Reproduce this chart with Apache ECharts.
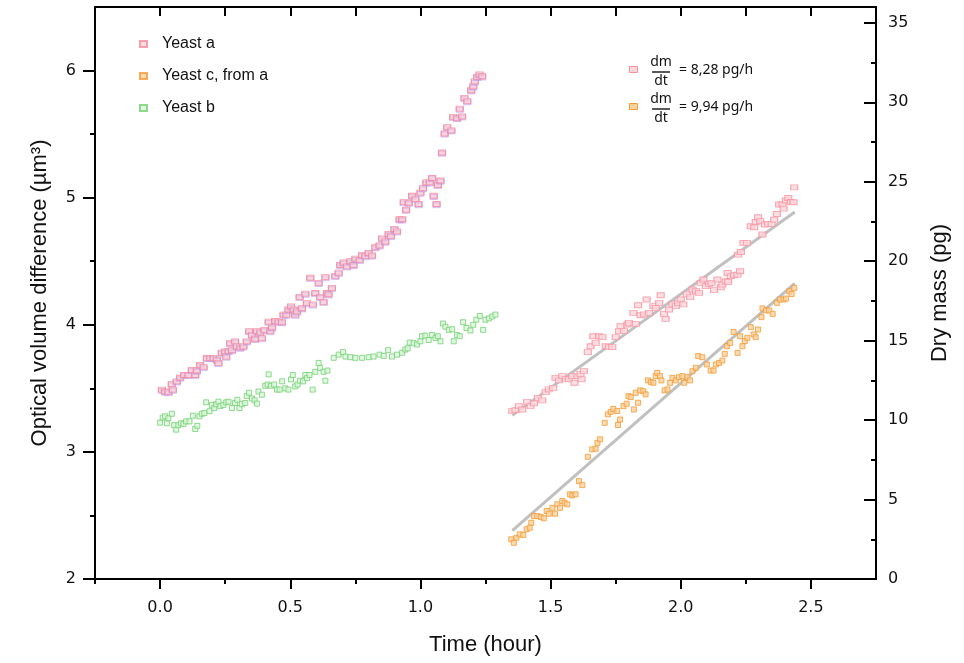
<!DOCTYPE html>
<html>
<head>
<meta charset="utf-8">
<script src="https://cdn.jsdelivr.net/npm/echarts@6/dist/echarts.min.js"></script>
<style>html,body{margin:0;padding:0;background:#fff}#c{width:964px;height:663px}</style>
</head>
<body>
<div id="c"></div>
<script>
// ---- data: [time (hour), value] ----
const yeastA = [ // optical volume difference (µm³), left axis
[0.007,3.49],[0.019,3.475],[0.032,3.47],[0.045,3.535],[0.049,3.49],[0.064,3.555],[0.077,3.585],[0.093,3.605],[0.109,3.605],[0.122,3.645],
[0.135,3.605],[0.141,3.64],[0.154,3.685],[0.167,3.667],[0.180,3.74],[0.192,3.74],[0.205,3.74],[0.218,3.725],[0.224,3.70],[0.237,3.78],
[0.250,3.79],[0.254,3.75],[0.263,3.795],[0.269,3.855],[0.276,3.80],[0.288,3.87],[0.295,3.83],[0.308,3.82],[0.320,3.83],[0.333,3.87],
[0.342,3.95],[0.353,3.92],[0.365,3.89],[0.372,3.95],[0.385,3.94],[0.391,3.895],[0.401,3.96],[0.417,4.025],[0.423,3.95],[0.430,3.98],
[0.442,4.03],[0.455,4.025],[0.468,4.02],[0.474,4.08],[0.485,4.08],[0.493,4.12],[0.503,4.145],[0.513,4.12],[0.519,4.08],[0.526,4.105],
[0.536,4.22],[0.545,4.13],[0.558,4.245],[0.564,4.17],[0.577,4.37],[0.587,4.16],[0.596,4.25],[0.609,4.33],[0.615,4.22],[0.628,4.18],
[0.635,4.375],[0.641,4.25],[0.647,4.24],[0.660,4.29],[0.673,4.385],[0.686,4.41],[0.692,4.47],[0.705,4.49],[0.718,4.46],[0.731,4.50],
[0.743,4.47],[0.750,4.52],[0.767,4.51],[0.776,4.55],[0.788,4.54],[0.801,4.565],[0.814,4.545],[0.827,4.61],[0.843,4.625],[0.853,4.68],
[0.865,4.655],[0.878,4.715],[0.887,4.70],[0.900,4.755],[0.910,4.735],[0.920,4.83],[0.930,4.83],[0.936,4.965],[0.945,4.905],[0.955,4.96],
[0.968,5.015],[0.981,4.99],[0.993,4.95],[1.000,5.04],[1.010,5.075],[1.023,5.12],[1.036,5.12],[1.045,5.155],[1.051,5.015],[1.062,4.95],
[1.067,5.10],[1.077,5.135],[1.083,5.355],[1.093,5.505],[1.103,5.555],[1.119,5.53],[1.126,5.635],[1.141,5.625],[1.151,5.70],[1.160,5.64],
[1.169,5.785],[1.180,5.76],[1.195,5.845],[1.203,5.875],[1.209,5.915],[1.218,5.95],[1.227,5.97],[1.237,5.955]
];
const yeastB = [ // optical volume difference (µm³), left axis
[0.000,3.23],[0.010,3.27],[0.019,3.28],[0.026,3.225],[0.032,3.265],[0.045,3.30],[0.054,3.21],[0.062,3.175],[0.070,3.21],[0.080,3.225],
[0.090,3.22],[0.100,3.24],[0.113,3.24],[0.126,3.285],[0.135,3.18],[0.143,3.205],[0.151,3.28],[0.160,3.30],[0.170,3.305],[0.177,3.39],
[0.190,3.32],[0.199,3.37],[0.208,3.345],[0.215,3.375],[0.224,3.395],[0.231,3.36],[0.243,3.37],[0.254,3.39],[0.263,3.395],[0.276,3.345],
[0.288,3.385],[0.297,3.41],[0.305,3.345],[0.314,3.375],[0.327,3.385],[0.333,3.44],[0.342,3.465],[0.353,3.42],[0.363,3.405],[0.372,3.38],
[0.378,3.475],[0.391,3.45],[0.404,3.52],[0.413,3.53],[0.417,3.61],[0.426,3.52],[0.438,3.53],[0.449,3.49],[0.459,3.49],[0.469,3.555],
[0.481,3.50],[0.493,3.49],[0.503,3.57],[0.510,3.605],[0.519,3.515],[0.528,3.53],[0.538,3.56],[0.549,3.555],[0.558,3.605],[0.564,3.58],
[0.574,3.605],[0.586,3.49],[0.596,3.63],[0.609,3.70],[0.615,3.66],[0.628,3.63],[0.635,3.56],[0.643,3.64],[0.667,3.74],[0.686,3.765],
[0.703,3.785],[0.712,3.75],[0.731,3.745],[0.750,3.74],[0.776,3.74],[0.801,3.745],[0.820,3.75],[0.843,3.765],[0.859,3.755],[0.876,3.80],
[0.891,3.75],[0.910,3.765],[0.930,3.78],[0.942,3.805],[0.951,3.815],[0.959,3.86],[0.974,3.855],[0.987,3.845],[1.000,3.87],[1.006,3.91],
[1.019,3.915],[1.032,3.88],[1.045,3.92],[1.058,3.895],[1.067,3.91],[1.077,3.87],[1.087,4.01],[1.096,3.985],[1.109,3.96],[1.122,3.965],
[1.128,3.87],[1.141,3.92],[1.151,3.91],[1.164,4.02],[1.177,3.975],[1.192,3.955],[1.203,4.00],[1.215,4.04],[1.228,4.07],[1.241,3.96],
[1.250,4.04],[1.263,4.05],[1.276,4.065],[1.288,4.08]
];
const yeastADryMass = [ // dry mass (pg), right axis
[1.353,10.57],[1.365,10.63],[1.378,10.88],[1.391,10.67],[1.410,11.15],[1.423,10.88],[1.436,11.05],[1.451,11.40],[1.468,11.24],[1.481,11.76],
[1.493,11.93],[1.510,12.03],[1.519,12.66],[1.532,12.50],[1.545,12.77],[1.558,12.60],[1.570,12.56],[1.583,12.77],[1.592,12.35],[1.603,12.77],
[1.615,12.91],[1.619,12.56],[1.628,13.08],[1.643,14.28],[1.654,14.65],[1.664,15.28],[1.673,14.86],[1.686,15.28],[1.699,15.22],[1.712,14.65],
[1.724,14.59],[1.737,14.59],[1.750,15.22],[1.763,15.60],[1.769,15.91],[1.782,15.60],[1.795,16.02],[1.801,16.12],[1.818,16.75],[1.827,16.06],
[1.836,17.23],[1.846,16.60],[1.859,16.65],[1.869,17.59],[1.878,16.75],[1.895,17.17],[1.904,17.06],[1.917,17.38],[1.923,17.86],[1.936,16.69],
[1.942,16.37],[1.955,16.96],[1.968,17.28],[1.981,17.17],[1.990,17.38],[2.000,17.59],[2.010,17.28],[2.023,17.91],[2.036,17.74],[2.045,18.22],
[2.058,18.11],[2.070,18.01],[2.077,18.64],[2.087,18.85],[2.096,18.43],[2.109,18.57],[2.118,18.64],[2.128,18.18],[2.141,18.85],[2.154,18.36],
[2.160,18.53],[2.173,18.74],[2.180,19.26],[2.182,18.70],[2.192,19.06],[2.205,19.12],[2.218,19.16],[2.220,20.42],[2.228,19.37],[2.231,20.58],
[2.241,21.15],[2.254,21.15],[2.269,22.20],[2.282,22.14],[2.288,22.47],[2.297,22.77],[2.305,22.52],[2.314,21.68],[2.323,22.31],[2.336,22.35],
[2.349,22.35],[2.359,22.62],[2.369,22.97],[2.378,23.57],[2.391,23.57],[2.395,23.31],[2.404,23.82],[2.413,23.98],[2.423,23.73],[2.433,23.71],
[2.436,24.65]
];
const yeastC = [ // dry mass (pg), right axis
[1.349,2.50],[1.359,2.28],[1.369,2.60],[1.382,2.81],[1.395,2.77],[1.408,3.13],[1.420,3.23],[1.426,3.54],[1.436,3.96],[1.449,3.96],
[1.462,3.90],[1.474,3.82],[1.485,4.28],[1.493,4.11],[1.507,4.48],[1.517,4.11],[1.526,4.70],[1.536,4.48],[1.545,4.91],[1.554,4.80],
[1.564,4.70],[1.574,5.33],[1.583,5.26],[1.596,5.33],[1.609,6.16],[1.622,5.91],[1.643,7.69],[1.660,8.16],[1.673,8.20],[1.680,8.57],
[1.690,8.79],[1.708,9.83],[1.720,10.36],[1.731,10.52],[1.741,10.71],[1.756,10.57],[1.759,9.69],[1.767,10.04],[1.780,10.88],[1.792,11.03],
[1.799,11.51],[1.808,11.45],[1.820,10.67],[1.827,11.72],[1.836,11.09],[1.844,11.87],[1.856,11.82],[1.865,11.62],[1.874,12.50],[1.885,12.39],
[1.895,12.35],[1.904,12.77],[1.910,12.97],[1.920,12.77],[1.926,12.50],[1.938,11.87],[1.949,11.93],[1.959,12.35],[1.968,12.66],[1.981,12.50],
[1.993,12.70],[2.006,12.77],[2.013,12.35],[2.026,12.70],[2.036,12.50],[2.045,13.08],[2.058,13.29],[2.067,14.03],[2.083,13.96],[2.100,13.50],
[2.115,13.12],[2.126,13.12],[2.135,13.50],[2.147,13.60],[2.160,13.75],[2.169,14.17],[2.177,14.65],[2.190,14.86],[2.203,15.55],[2.218,14.23],
[2.228,15.28],[2.237,14.65],[2.246,14.97],[2.256,15.18],[2.269,15.85],[2.280,15.39],[2.288,15.22],[2.297,15.70],[2.310,16.48],[2.314,17.03],
[2.327,16.90],[2.340,16.90],[2.353,16.69],[2.369,17.38],[2.382,17.59],[2.395,17.59],[2.404,17.65],[2.417,18.11],[2.426,17.94],[2.436,18.32]
];
const fitA = [[1.353,10.3],[2.438,23.1]];
const fitC = [[1.353,3.05],[2.438,18.6]];

const xMajorTicks = [0,0.5,1,1.5,2,2.5];
const xMinorTicks = [-0.25,0.25,0.75,1.25,1.75,2.25];
const xTopTicks = [0,0.25,0.5,0.75,1,1.25,1.5,1.75,2,2.25,2.5];
const yLeftMajor = [2,3,4,5,6];
const yLeftMinor = [2.5,3.5,4.5,5.5];
const yRightMajor = [0,5,10,15,20,25,30,35];
const yRightMinor = [2.5,7.5,12.5,17.5,22.5,27.5,32.5];

const legendA = '= 8,28 pg/h';
const legendC = '= 9,94 pg/h';

// ---- styles ----
const PINK = {color:'#fdd6dc', borderColor:'#f4899a', borderWidth:1, shadowColor:'rgba(190,150,235,0.6)', shadowOffsetY:1.2, shadowBlur:0};
const PINK2 = {color:'#fdd6dc', borderColor:'#f7939f', borderWidth:1};
const ORANGE = {color:'#fbd29c', borderColor:'#f29b38', borderWidth:1};
const GREEN = {color:'#dcf6dc', borderColor:'#74d174', borderWidth:1};
const AX = {onZero:false, lineStyle:{color:'#000', width:2}};
const NOLINE = {show:false, onZero:false};
const TICK = {color:'#000', width:2};
const LBL = {fontFamily:'DejaVu Sans', fontSize:16, color:'#111'};
const TITLE = {fontFamily:'Liberation Sans', fontSize:22, color:'#111'};

const chart = echarts.init(document.getElementById('c'), null, {renderer:'canvas'});
const hidden = {show:false};
chart.setOption({
  animation:false,
  backgroundColor:'#fff',
  grid:{left:95, right:88, top:7, bottom:84, containLabel:false},
  legend:{
    data:['Yeast a','Yeast c, from a','Yeast b'],
    orient:'vertical', left:134, top:31, itemWidth:7, itemHeight:6, itemGap:16,
    textStyle:{fontFamily:'Liberation Sans', fontSize:16, color:'#111', padding:[0,0,0,10]},
    selectedMode:false
  },
  xAxis:[
    {type:'value', position:'bottom', min:-0.25, max:2.75, axisLine:AX,
     axisTick:{show:true, inside:false, length:10, lineStyle:TICK, customValues:xMajorTicks},
     axisLabel:Object.assign({margin:21, customValues:xMajorTicks, formatter:v=>v.toFixed(1)}, LBL),
     splitLine:hidden,
     name:'Time (hour)', nameLocation:'middle', nameGap:55, nameTextStyle:TITLE},
    {type:'value', position:'bottom', min:-0.25, max:2.75, axisLine:NOLINE,
     axisTick:{show:true, inside:false, length:5, lineStyle:TICK, customValues:xMinorTicks},
     axisLabel:hidden, splitLine:hidden},
    {type:'value', position:'top', min:-0.25, max:2.75, axisLine:AX,
     axisTick:{show:true, inside:true, length:9, lineStyle:TICK, customValues:xTopTicks},
     axisLabel:hidden, splitLine:hidden}
  ],
  yAxis:[
    {type:'value', position:'left', min:2, max:6.5, axisLine:AX,
     axisTick:{show:true, inside:false, length:12, lineStyle:TICK, customValues:yLeftMajor},
     axisLabel:Object.assign({margin:19, customValues:yLeftMajor}, LBL),
     splitLine:hidden,
     name:'Optical volume difference (µm³)', nameLocation:'middle', nameGap:44, nameRotate:90, nameTextStyle:TITLE},
    {type:'value', position:'right', min:0, max:36, axisLine:AX,
     axisTick:{show:true, inside:true, length:12, lineStyle:TICK, customValues:yRightMajor},
     axisLabel:Object.assign({margin:12, customValues:yRightMajor}, LBL),
     splitLine:hidden,
     name:'Dry mass (pg)', nameLocation:'middle', nameGap:53, nameRotate:90, nameTextStyle:TITLE},
    {type:'value', position:'left', min:2, max:6.5, axisLine:NOLINE,
     axisTick:{show:true, inside:false, length:5, lineStyle:TICK, customValues:yLeftMinor},
     axisLabel:hidden, splitLine:hidden},
    {type:'value', position:'right', min:0, max:36, axisLine:NOLINE,
     axisTick:{show:true, inside:true, length:5, lineStyle:TICK, customValues:yRightMinor},
     axisLabel:hidden, splitLine:hidden}
  ],
  series:[
    {type:'line', name:'fitA', data:fitA, xAxisIndex:0, yAxisIndex:1, symbol:'none', lineStyle:{color:'#c0c0c0', width:3}, z:1, silent:true},
    {type:'line', name:'fitC', data:fitC, xAxisIndex:0, yAxisIndex:1, symbol:'none', lineStyle:{color:'#c0c0c0', width:3}, z:1, silent:true},
    {type:'scatter', name:'Yeast a', data:yeastA, xAxisIndex:0, yAxisIndex:0, symbol:'rect', symbolSize:[7,5], itemStyle:PINK, z:3},
    {type:'scatter', name:'Yeast c, from a', data:yeastC, xAxisIndex:0, yAxisIndex:1, symbol:'rect', symbolSize:[5,5], itemStyle:ORANGE, z:3},
    {type:'scatter', name:'Yeast b', data:yeastB, xAxisIndex:0, yAxisIndex:0, symbol:'rect', symbolSize:[5,5], itemStyle:GREEN, z:3},
    {type:'scatter', name:'Yeast a dry mass', data:yeastADryMass, xAxisIndex:0, yAxisIndex:1, symbol:'rect', symbolSize:[7,5], itemStyle:PINK2, z:3}
  ],
  graphic:[
    {type:'rect', left:629, top:66, shape:{width:8, height:6}, style:{fill:PINK2.color, stroke:PINK2.borderColor, lineWidth:1}},
    {type:'text', x:661, y:62, style:{text:'dm', font:'14px "Noto Sans"', fill:'#111', textAlign:'center', textVerticalAlign:'middle'}},
    {type:'line', shape:{x1:652, y1:72, x2:670, y2:72}, style:{stroke:'#111', lineWidth:1.4}},
    {type:'text', x:661, y:81, style:{text:'dt', font:'14px "Noto Sans"', fill:'#111', textAlign:'center', textVerticalAlign:'middle'}},
    {type:'text', x:679, y:70, style:{text:legendA, font:'14px "Noto Sans"', fill:'#111', textAlign:'left', textVerticalAlign:'middle'}},
    {type:'rect', left:629, top:103, shape:{width:8, height:6}, style:{fill:ORANGE.color, stroke:ORANGE.borderColor, lineWidth:1}},
    {type:'text', x:661, y:99, style:{text:'dm', font:'14px "Noto Sans"', fill:'#111', textAlign:'center', textVerticalAlign:'middle'}},
    {type:'line', shape:{x1:652, y1:109, x2:670, y2:109}, style:{stroke:'#111', lineWidth:1.4}},
    {type:'text', x:661, y:118, style:{text:'dt', font:'14px "Noto Sans"', fill:'#111', textAlign:'center', textVerticalAlign:'middle'}},
    {type:'text', x:679, y:107, style:{text:legendC, font:'14px "Noto Sans"', fill:'#111', textAlign:'left', textVerticalAlign:'middle'}}
  ]
});
</script>
</body>
</html>
